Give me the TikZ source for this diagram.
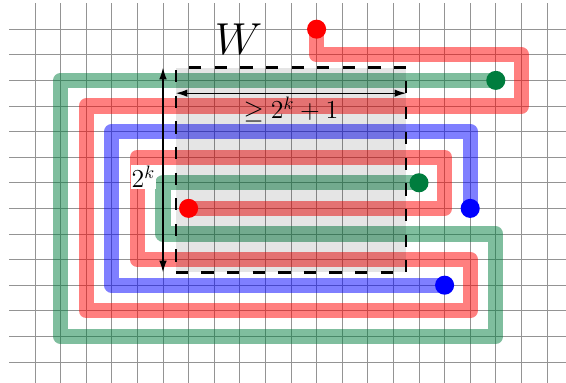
\documentclass[tikz,border=0pt]{standalone}
\usetikzlibrary{arrows.meta}
\definecolor{pgreen}{RGB}{0,125,62}
\begin{document}
\begin{tikzpicture}[x=0.5cm,y=0.5cm,
  gridline/.style={black!42, line width=0.4pt},
  trail/.style={line width=8.5pt, line join=round, line cap=round, draw opacity=0.5},
  dot/.style={circle, fill=#1, inner sep=0pt, minimum size=10.6pt},
  boxdash/.style={line width=1.3pt, dash pattern=on 6.83pt off 7.4pt},
  measure/.style={<->, >={Latex[length=6.5pt,width=4.2pt]}, line width=0.7pt},
  lbl/.style={font=\fontsize{14}{16}\selectfont}]
\useasboundingbox (-1.367,-0.82) rectangle (20.742,14.14);
% grid
\foreach \i in {0,...,20} \draw[gridline] (\i,-1) -- (\i,14.01);
\foreach \j in {0,...,13} \draw[gridline] (-1,\j) -- (21,\j);
% end points
\coordinate (rA) at (11,13);
\coordinate (rB) at (6,6);
\coordinate (gA) at (18,11);
\coordinate (gB) at (15,7);
\coordinate (bA) at (17,6);
\coordinate (bB) at (16,3);
% trails
\draw[trail, red] (rA) -- (11,12) -- (19,12) -- (19,10) -- (2,10) -- (2,2) -- (17,2)
  -- (17,4) -- (4,4) -- (4,8) -- (16,8) -- (16,6) -- (rB);
\draw[trail, pgreen] (gA) -- (1,11) -- (1,1) -- (18,1) -- (18,5) -- (5,5) -- (5,7) -- (gB);
\draw[trail, blue] (bA) -- (17,9) -- (3,9) -- (3,3) -- (bB);
% window W
\coordinate (wBL) at (5.5,3.5);
\coordinate (wTL) at (5.5,11.5);
\coordinate (wTR) at (14.5,11.5);
\coordinate (wBR) at (14.5,3.5);
\fill[black, fill opacity=0.1] (wBL) rectangle (wTR);
% dots
\node[dot=red] (r1) at (rA) {};
\node[dot=red] (r2) at (rB) {};
\node[dot=pgreen] (g1) at (gA) {};
\node[dot=pgreen] (g2) at (gB) {};
\node[dot=blue] (b1) at (bA) {};
\node[dot=blue] (b2) at (bB) {};
% dashed box
\draw[boxdash, dash phase=6.83pt] (wTL) -- (wTR);
\draw[boxdash, dash phase=12.8pt] (wTL) -- (wBL);
\draw[boxdash, dash phase=6.83pt] (wTR) -- (wBR);
\draw[boxdash] (wBL) -- (wBR);
% labels
\node[font=\fontsize{26}{30}\selectfont, anchor=base, inner sep=0pt] (W) at (7.95,12.0) {$W$};
\node[lbl, fill=white, inner sep=0.6pt, anchor=base east] (ht) at (4.75,6.8) {$2^k$};
\node[lbl, anchor=base, inner sep=0pt] (len) at (10,9.5) {$\geq 2^k+1$};
% measures
\coordinate (vT) at (5,11.5);
\coordinate (vB) at (5,3.5);
\coordinate (hL) at (5.5,10.5);
\coordinate (hR) at (14.5,10.5);
\draw[measure] (vT) -- (vB);
\draw[measure] (hL) -- (hR);
\end{tikzpicture}
\end{document}
